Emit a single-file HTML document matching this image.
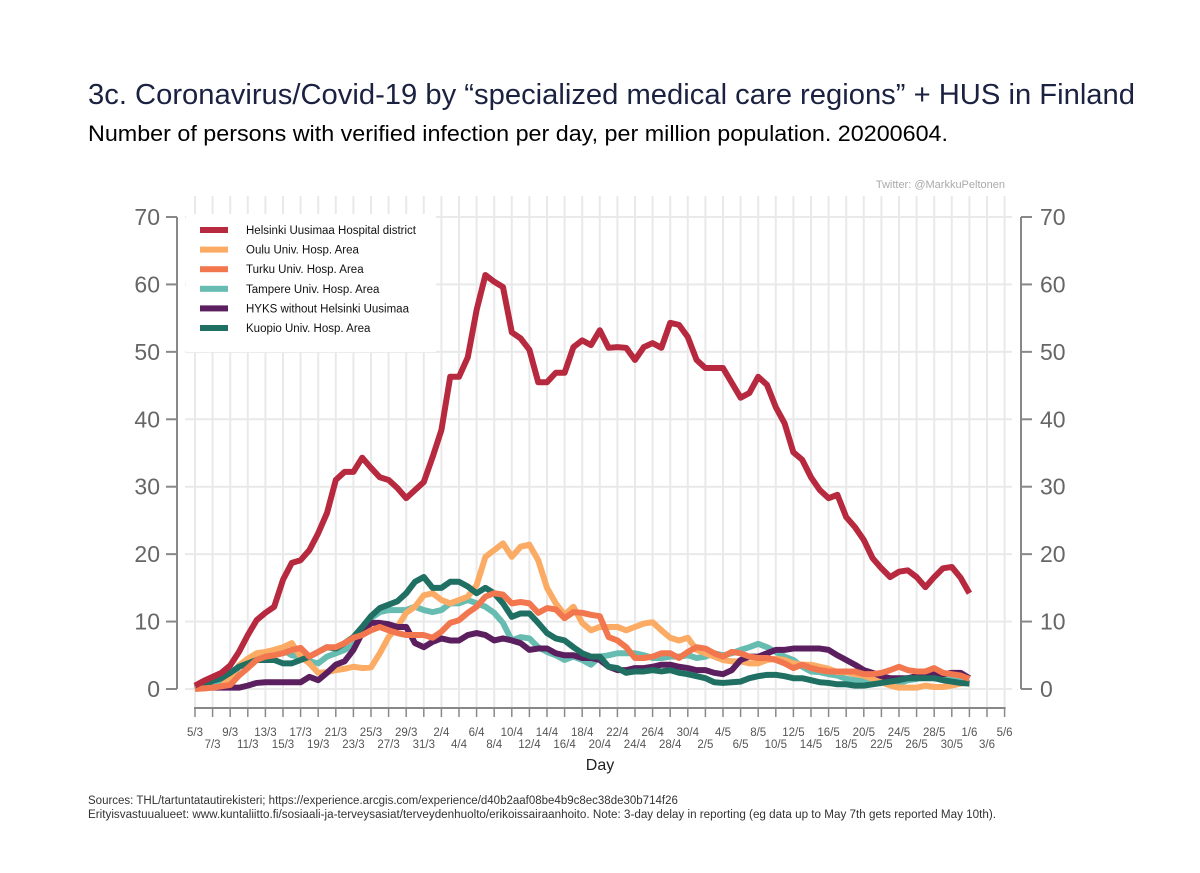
<!DOCTYPE html>
<html><head><meta charset="utf-8"><style>
body{margin:0;background:#fff;font-family:"Liberation Sans",Arial,sans-serif;}
svg{display:block}
</style></head><body>
<svg width="1200" height="873" viewBox="0 0 1200 873" xmlns="http://www.w3.org/2000/svg">
<text x="88" y="104" font-size="29" fill="#1b2141" textLength="1047" lengthAdjust="spacingAndGlyphs">3c. Coronavirus/Covid-19 by “specialized medical care regions” + HUS in Finland</text>
<text x="88" y="141" font-size="22.5" fill="#000" textLength="860" lengthAdjust="spacingAndGlyphs">Number of persons with verified infection per day, per million population. 20200604.</text>
<text x="1005" y="188" font-size="11" fill="#aaa" text-anchor="end">Twitter: @MarkkuPeltonen</text>
<g id="grid"></g>
<g id="axes"></g>
<g id="lines"></g>
<g id="legend"></g>
<text x="600" y="770" font-size="16" fill="#222" text-anchor="middle">Day</text>
<text x="88" y="804" font-size="11.5" fill="#333">Sources: THL/tartuntatautirekisteri; https://experience.arcgis.com/experience/d40b2aaf08be4b9c8ec38de30b714f26</text>
<text x="88" y="818" font-size="11.5" fill="#333" textLength="908" lengthAdjust="spacingAndGlyphs">Erityisvastuualueet: www.kuntaliitto.fi/sosiaali-ja-terveysasiat/terveydenhuolto/erikoissairaanhoito. Note: 3-day delay in reporting (eg data up to May 7th gets reported May 10th).</text>
</svg>
<script>
const seriesNames=["Helsinki Uusimaa Hospital district","Oulu Univ. Hosp. Area","Turku Univ. Hosp. Area","Tampere Univ. Hosp. Area","HYKS without Helsinki Uusimaa","Kuopio Univ. Hosp. Area"];
const helsinki=[0.5,1.2,1.8,2.4,3.5,5.5,8,10.2,11.3,12.2,16.2,18.7,19.1,20.6,23.1,26.1,31,32.2,32.2,34.3,32.8,31.4,31,29.8,28.3,29.5,30.7,34.4,38.4,46.3,46.3,49.2,56.2,61.4,60.4,59.6,52.9,52,50.3,45.5,45.5,46.9,46.9,50.7,51.7,51,53.2,50.6,50.7,50.6,48.8,50.7,51.3,50.6,54.3,54,52.2,48.8,47.6,47.6,47.6,45.4,43.2,43.9,46.3,45.1,41.8,39.4,35.1,34,31.4,29.5,28.3,28.8,25.5,24,22.1,19.4,17.9,16.6,17.4,17.6,16.6,15.1,16.6,17.9,18.1,16.5,14.2];
const oulu=[0.1,0.1,0.2,0.3,1.8,3.5,4.5,5.3,5.5,5.8,6.2,6.8,4.8,3.8,2.4,2.5,2.8,3.0,3.3,3.1,3.2,5.3,7.7,9.2,11.3,12.2,13.9,14.2,13.2,12.7,13.2,13.7,15.4,19.6,20.6,21.6,19.6,21.1,21.4,19.1,15,12.7,11,12.2,9.8,8.7,9.2,9.2,9.2,8.7,9.2,9.7,9.9,8.7,7.6,7.2,7.6,5.8,5.3,4.8,4.3,4.1,4.1,3.8,3.8,4.3,4.5,4.3,3.8,3.6,3.6,3.3,3,2.5,2.5,2.2,2,1.5,1,0.5,0.2,0.2,0.2,0.5,0.3,0.3,0.5,0.8,1.0];
const turku=[0,0.1,0.2,0.4,0.6,2,3.1,4.3,4.8,5,5.3,5.8,6.1,4.8,5.5,6.2,6.2,6.8,7.6,8,8.7,9.2,8.7,8.3,8,8,8,7.6,8.5,9.8,10.2,11.3,12.2,13.7,14.2,14,12.7,12.9,12.7,11.3,12,11.8,10.5,11.4,11.3,11,10.8,7.7,7.2,6.2,4.6,4.6,4.8,5.3,5.3,4.6,5.5,6.2,6.0,5.3,4.8,5.5,5.3,4.8,4.6,4.6,4.3,3.8,3.1,3.6,3.1,2.8,2.6,2.6,2.6,2.6,2.2,2.2,2.4,2.8,3.3,2.8,2.6,2.6,3.1,2.4,2.2,2,1.5];
const tampere=[0.2,0.5,0.9,0.9,1.8,3.3,4.3,4.8,5.3,5.8,5.8,5,4.8,4.1,3.8,4.8,5.3,5.8,6.5,8.7,10.5,11.4,11.7,11.7,11.7,12.2,11.7,11.4,11.7,12.7,12.7,13.2,12.7,12.2,11.3,9.8,7.2,7.7,7.5,6.2,5.5,5,4.3,4.8,4.3,3.6,4.8,5,5.3,5.3,5.3,5,4.6,4.6,4.8,4.8,5,4.6,4.8,5.3,5,5.3,5.8,6.2,6.7,6.2,5.5,4.8,4.3,3.3,2.6,2.5,2.2,2,1.5,1.3,1.3,1.3,1.3,1.1,0.8,1.3,1.5,1.8,1.8,1.5,1.3,1.1,0.8];
const hyks=[0.5,0.3,0.2,0.2,0.2,0.2,0.5,0.9,1,1,1,1,1,1.8,1.3,2.4,3.6,4.1,5.8,8.3,9.8,9.8,9.6,9.2,9.2,6.8,6.2,7,7.5,7.2,7.2,8,8.3,8,7.2,7.5,7.2,6.8,5.8,6,6,5.3,5,5,4.6,4.6,4.3,3.3,2.8,2.8,3.1,3.1,3.3,3.6,3.6,3.3,3.1,2.8,2.8,2.4,2.2,2.8,4.3,4.8,4.8,5.3,5.8,5.8,6,6,6,6,5.8,5,4.3,3.6,2.8,2.4,1.9,1.6,1.6,1.6,1.9,2.2,2.2,2.2,2.4,2.4,1.6];
const kuopio=[0.2,0.6,1.2,1.6,2.4,3.3,3.8,4.3,4.3,4.3,3.8,3.8,4.3,4.8,5.5,6.2,6,6.8,7.7,9.2,10.8,12,12.5,13,14.2,15.9,16.6,15,15,15.9,15.9,15.2,14.2,15,14.2,12.7,10.7,11.2,11.2,9.8,8.3,7.5,7.2,6.2,5.3,4.8,4.8,3.3,3.1,2.4,2.6,2.6,2.8,2.6,2.8,2.4,2.2,1.9,1.6,1.0,0.9,1.0,1.1,1.6,1.9,2.1,2.1,1.9,1.6,1.6,1.3,1,0.9,0.7,0.7,0.5,0.5,0.7,0.9,1.1,1.3,1.6,1.6,1.6,1.6,1.3,1.1,0.9,0.8];
const tickLabelsTop=["5/3","9/3","13/3","17/3","21/3","25/3","29/3","2/4","6/4","10/4","14/4","18/4","22/4","26/4","30/4","4/5","8/5","12/5","16/5","20/5","24/5","28/5","1/6","5/6"];
const tickLabelsBottom=["7/3","11/3","15/3","19/3","23/3","27/3","31/3","4/4","8/4","12/4","16/4","20/4","24/4","28/4","2/5","6/5","10/5","14/5","18/5","22/5","26/5","30/5","3/6"];
const yTicks=[0,10,20,30,40,50,60,70];
const colors=["#b7293f","#fbab63","#f2774f","#66bcb0","#5b1f5f","#1f6f63"];

const NS="http://www.w3.org/2000/svg";
const X0=195,DX=8.8,Y0=689,DY=6.743,NDAYS=92;
const xs=d=>X0+d*DX, ys=v=>Y0-v*DY;
function mk(tag,attrs,parent){const e=document.createElementNS(NS,tag);for(const k in attrs)e.setAttribute(k,attrs[k]);parent.appendChild(e);return e;}
const grid=document.getElementById('grid'),axes=document.getElementById('axes'),lines=document.getElementById('lines'),leg=document.getElementById('legend');
for(let d=0;d<=NDAYS;d+=2){const l=mk('line',{x1:xs(d),x2:xs(d),y1:196,y2:708,stroke:'#e9e9e9','stroke-width':2},grid);

}
yTicks.forEach(v=>{const l=mk('line',{x1:185,x2:1012,y1:ys(v),y2:ys(v),stroke:'#e9e9e9','stroke-width':2},grid);

});
mk('line',{x1:177,x2:177,y1:ys(70),y2:ys(0),stroke:'#888','stroke-width':2},axes);
mk('line',{x1:1021,x2:1021,y1:ys(70),y2:ys(0),stroke:'#888','stroke-width':2},axes);
mk('line',{x1:xs(0)-1,x2:xs(NDAYS)+1,y1:708,y2:708,stroke:'#888','stroke-width':2},axes);
yTicks.forEach(v=>{
 mk('line',{x1:166,x2:177,y1:ys(v),y2:ys(v),stroke:'#888','stroke-width':2},axes);
 mk('line',{x1:1021,x2:1032,y1:ys(v),y2:ys(v),stroke:'#888','stroke-width':2},axes);
 const t=mk('text',{x:160,y:ys(v)+8,'font-size':23,fill:'#666','text-anchor':'end'},axes);t.textContent=v;
 
 
 const t2=mk('text',{x:1040,y:ys(v)+8,'font-size':23,fill:'#666'},axes);t2.textContent=v;
 
 
});
for(let d=0;d<=NDAYS;d+=2)mk('line',{x1:xs(d),x2:xs(d),y1:708,y2:717,stroke:'#888','stroke-width':1.5},axes);
tickLabelsTop.forEach((s,i)=>{const t=mk('text',{x:xs(i*4),y:736,'font-size':11.5,fill:'#555','text-anchor':'middle'},axes);t.textContent=s;

});
tickLabelsBottom.forEach((s,i)=>{const t=mk('text',{x:xs(i*4+2),y:748,'font-size':11.5,fill:'#555','text-anchor':'middle'},axes);t.textContent=s;

});
const lb=mk('rect',{x:186,y:214,width:250,height:138,fill:'#fff'},leg);


const data=[helsinki,oulu,turku,tampere,hyks,kuopio];
const order=[3,1,4,5,2,0];
const lineNames=['line-helsinki','line-oulu','line-turku','line-tampere','line-hyks','line-kuopio'];
order.forEach(i=>{const p=mk('polyline',{points:data[i].map((v,d)=>xs(d)+','+ys(v)).join(' '),fill:'none',stroke:colors[i],'stroke-width':6,'stroke-linejoin':'round'},lines);

});
seriesNames.forEach((n,i)=>{const y=230+i*19.6;
 const r=mk('rect',{x:200,y:y-3,width:28,height:6,fill:colors[i]},leg);
 
 
 const t=mk('text',{x:246,y:y+4,'font-size':11.5,fill:'#111'},leg);t.textContent=n;
 
 });
</script>
</body></html>
